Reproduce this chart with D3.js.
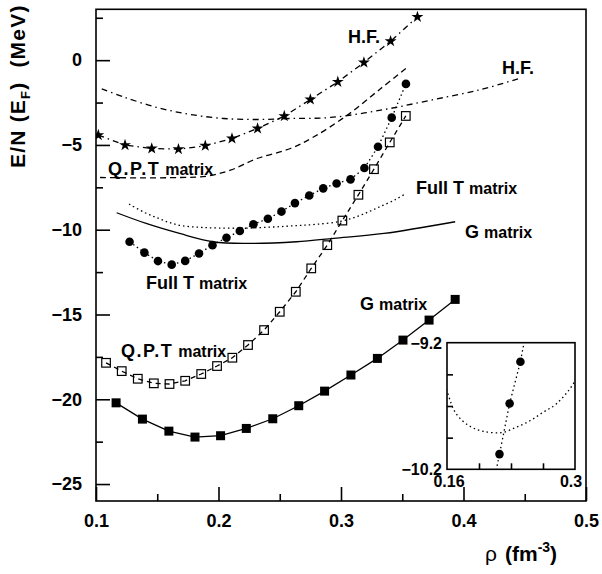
<!DOCTYPE html>
<html>
<head>
<meta charset="utf-8">
<script src="https://cdn.jsdelivr.net/npm/d3@7/dist/d3.min.js"></script>
<style>
  body { margin: 0; background: #fff; }
  text { font-family: "Liberation Sans", Arial, sans-serif; font-weight: bold; fill: #000; }
</style>
</head>
<body>
<script>
// Binding energy per nucleon vs density, several approximations

// H.F. with stars (dash-dot)
var hfStarX = [0.1019, 0.1237, 0.1455, 0.1673, 0.1892, 0.2110, 0.2319, 0.2537, 0.2750, 0.2974, 0.3187, 0.3405, 0.3624];
var hfStarY = [-4.42, -5.01, -5.21, -5.25, -5.05, -4.62, -4.03, -3.30, -2.32, -1.28, -0.14, 1.12, 2.55];

// H.F. curve without markers (dash-dot)
var hfX = [0.1047, 0.1223, 0.1497, 0.1769, 0.2042, 0.2315, 0.2588, 0.2915, 0.3324, 0.3733, 0.4142, 0.4456];
var hfY = [-1.69, -2.16, -2.79, -3.20, -3.44, -3.50, -3.44, -3.38, -2.95, -2.36, -1.73, -1.08];

// Q.P.T matrix curve without markers (dashed)
var qptX = [0.1033, 0.1360, 0.1688, 0.1906, 0.2097, 0.2315, 0.2588, 0.2779, 0.3052, 0.3325, 0.3529];
var qptY = [-6.92, -6.94, -6.92, -6.84, -6.49, -5.80, -5.21, -4.52, -3.24, -1.67, -0.49];

// Q.P.T matrix with open squares (dashed)
var qptSqX = [0.1082, 0.1210, 0.1341, 0.1472, 0.1600, 0.1728, 0.1859, 0.1988, 0.2113, 0.2241,
              0.2372, 0.2500, 0.2631, 0.2757, 0.2888, 0.3011, 0.3142, 0.3269, 0.3398, 0.3529];
var qptSqY = [-17.85, -18.34, -18.79, -19.06, -19.10, -18.91, -18.51, -18.04, -17.55, -16.80,
              -15.92, -14.84, -13.66, -12.28, -10.91, -9.46, -7.94, -6.43, -4.85, -3.29];

// Full T matrix curve without markers (dotted)
var fullX = [0.127, 0.14, 0.15, 0.16, 0.17, 0.185, 0.20, 0.22, 0.235, 0.25, 0.265, 0.28, 0.30, 0.315, 0.33, 0.345, 0.353];
var fullY = [-8.49, -9.0, -9.3, -9.58, -9.76, -9.86, -9.9, -9.91, -9.87, -9.82, -9.75, -9.68, -9.5, -9.17, -8.7, -8.2, -7.86];

// Full T matrix with filled circles (dotted)
var fullDotX = [0.1274, 0.1395, 0.1506, 0.1618, 0.1728, 0.1841, 0.1951, 0.2065, 0.2174, 0.2285, 0.2403,
                0.2514, 0.2624, 0.2741, 0.2855, 0.2964, 0.3078, 0.3191, 0.3302, 0.3414, 0.3530];
var fullDotY = [-10.71, -11.35, -11.85, -12.06, -11.84, -11.40, -10.91, -10.47, -10.08, -9.68, -9.35,
                -8.93, -8.43, -7.98, -7.56, -7.27, -7.03, -6.36, -5.11, -3.39, -1.40];

// G matrix curve without markers (solid)
var gX = [0.1169, 0.1409, 0.1682, 0.1955, 0.2227, 0.2637, 0.2942, 0.3351, 0.3932];
var gY = [-9.00, -9.63, -10.22, -10.71, -10.81, -10.71, -10.51, -10.22, -9.53];

// G matrix with filled squares (solid)
var gSqX = [0.1164, 0.1379, 0.1595, 0.1808, 0.2017, 0.2227, 0.2443, 0.2655, 0.2866, 0.3081, 0.3297, 0.3506, 0.3719, 0.3932];
var gSqY = [-20.21, -21.17, -21.88, -22.23, -22.15, -21.72, -21.15, -20.38, -19.52, -18.57, -17.59, -16.51, -15.33, -14.11];

// ticks
var xMajor = [0.1, 0.2, 0.3, 0.4, 0.5];
var xMinor = [0.15, 0.25, 0.35, 0.45];
var yMajor = [-25, -20, -15, -10, -5, 0];
var yMinor = [-22.5, -17.5, -12.5, -7.5, -2.5, 2.5];
var insetXTicks = [0.195, 0.23, 0.265];
var insetYTicks = [-9.45, -9.7, -9.95];
var insetXLabels = [0.16, 0.3];
var insetYLabels = [-9.2, -10.2];

var width = 602, height = 574;

var svg = d3.select("body").append("svg")
    .attr("width", width)
    .attr("height", height);

var x = d3.scaleLinear().domain([0.1, 0.5]).range([96, 586]);
var y = d3.scaleLinear().domain([-26, 3]).range([501, 9.3]);

function zip(a, b) { return a.map(function(v, i) { return [v, b[i]]; }); }

svg.append("clipPath").attr("id", "plotclip")
  .append("rect")
    .attr("x", x(0.1)).attr("y", y(3))
    .attr("width", x(0.5) - x(0.1)).attr("height", y(-26) - y(3));

// ---- axes (ticks point inward) ----
function styleAxis(g) {
  g.select(".domain").remove();
  g.selectAll("line").attr("stroke", "#000").attr("stroke-width", 1.6);
  g.selectAll("text").attr("font-size", 18).attr("font-family", "Liberation Sans, Arial, sans-serif")
    .attr("font-weight", "bold").attr("fill", "#000");
}

svg.append("g")
    .attr("transform", "translate(0," + y(-26) + ")")
    .call(d3.axisBottom(x).tickValues(xMajor).tickSize(-14).tickPadding(13)
      .tickFormat(function(d) { return d3.format(".1f")(d); }))
    .call(styleAxis);
svg.append("g")
    .attr("transform", "translate(0," + y(-26) + ")")
    .call(d3.axisBottom(x).tickValues(xMinor).tickSize(-7).tickFormat(""))
    .call(styleAxis);
svg.append("g")
    .attr("transform", "translate(" + x(0.1) + ",0)")
    .call(d3.axisLeft(y).tickValues(yMajor).tickSize(-14).tickPadding(14)
      .tickFormat(function(d) { return d3.format("d")(d); }))
    .call(styleAxis);
svg.append("g")
    .attr("transform", "translate(" + x(0.1) + ",0)")
    .call(d3.axisLeft(y).tickValues(yMinor).tickSize(-7).tickFormat(""))
    .call(styleAxis);

// frame
svg.append("rect")
    .attr("x", x(0.1)).attr("y", y(3))
    .attr("width", x(0.5) - x(0.1)).attr("height", y(-26) - y(3))
    .attr("fill", "none").attr("stroke", "#000").attr("stroke-width", 1.6);

// ---- curves ----
var plot = svg.append("g").attr("clip-path", "url(#plotclip)");

var smooth = d3.line().x(function(d) { return x(d[0]); }).y(function(d) { return y(d[1]); })
    .curve(d3.curveCatmullRom);
var straight = d3.line().x(function(d) { return x(d[0]); }).y(function(d) { return y(d[1]); });

function curve(g, gen, pts, dash) {
  g.append("path")
    .datum(pts)
    .attr("d", gen)
    .attr("fill", "none")
    .attr("stroke", "#000")
    .attr("stroke-width", 1.3)
    .attr("stroke-dasharray", dash);
}

curve(plot, smooth, zip(hfX, hfY), "6,4,1.5,4");
curve(plot, smooth, zip(qptX, qptY), "6,4");
curve(plot, smooth, zip(fullX, fullY), "1.5,3");
curve(plot, smooth, zip(gX, gY), null);

curve(plot, straight, zip(hfStarX, hfStarY), "6,4,1.5,4");
curve(plot, straight, zip(qptSqX, qptSqY), "5,4");
curve(plot, straight, zip(fullDotX, fullDotY), "1.5,3");
curve(plot, straight, zip(gSqX, gSqY), null);

// markers
plot.selectAll(".star")
  .data(zip(hfStarX, hfStarY)).enter().append("path")
    .attr("d", d3.symbol().type(d3.symbolStar).size(44))
    .attr("transform", function(d) { return "translate(" + x(d[0]) + "," + y(d[1]) + ")"; })
    .attr("fill", "#000");

plot.selectAll(".osq")
  .data(zip(qptSqX, qptSqY)).enter().append("rect")
    .attr("x", function(d) { return x(d[0]) - 4.3; })
    .attr("y", function(d) { return y(d[1]) - 4.3; })
    .attr("width", 8.6).attr("height", 8.6)
    .attr("fill", "none").attr("stroke", "#000").attr("stroke-width", 1.2);

plot.selectAll(".dot")
  .data(zip(fullDotX, fullDotY)).enter().append("circle")
    .attr("cx", function(d) { return x(d[0]); })
    .attr("cy", function(d) { return y(d[1]); })
    .attr("r", 4.3)
    .attr("fill", "#000");

plot.selectAll(".fsq")
  .data(zip(gSqX, gSqY)).enter().append("rect")
    .attr("x", function(d) { return x(d[0]) - 4.5; })
    .attr("y", function(d) { return y(d[1]) - 4.5; })
    .attr("width", 9).attr("height", 9)
    .attr("fill", "#000");

// ---- curve labels ----
function label(xp, yp, big, small, bigSize, spacing) {
  var t = svg.append("text").attr("x", xp).attr("y", yp);
  t.append("tspan").attr("font-size", bigSize || 18)
    .attr("letter-spacing", spacing || 0).text(big);
  if (small) t.append("tspan").attr("font-size", 16).attr("dx", 5).attr("letter-spacing", 0).text(small);
}
label(348, 43, "H.F.");
label(502, 74, "H.F.");
label(108, 175, "Q.P.T", "matrix", 18, 1.5);
label(416, 194, "Full T", "matrix");
label(465, 238, "G", "matrix");
label(146, 289, "Full T", "matrix");
label(121, 357, "Q.P.T", "matrix", 18, 1.5);
label(360, 310, "G", "matrix");

// ---- axis titles ----
var yt = svg.append("text")
    .attr("transform", "translate(25,168) rotate(-90)")
    .attr("font-size", 21).attr("letter-spacing", 1.2);
yt.append("tspan").text("E/N (E");
yt.append("tspan").attr("font-size", 13).attr("dy", 5).text("F");
yt.append("tspan").attr("dy", -5).text(")");
yt.append("tspan").attr("dx", 14).text("(MeV)");

var xt = svg.append("text").attr("x", 485).attr("y", 561).attr("font-size", 21);
xt.append("tspan").attr("font-weight", "normal").text("ρ");
xt.append("tspan").attr("dx", 8).text("(fm");
xt.append("tspan").attr("font-size", 14).attr("dy", -9).text("-3");
xt.append("tspan").attr("dy", 9).text(")");

// ---- inset ----
var ix = d3.scaleLinear().domain([0.16, 0.3]).range([447, 575]);
var iy = d3.scaleLinear().domain([-10.2, -9.2]).range([469.3, 342.7]);

svg.append("clipPath").attr("id", "insetclip")
  .append("rect")
    .attr("x", ix(0.16)).attr("y", iy(-9.2))
    .attr("width", ix(0.3) - ix(0.16)).attr("height", iy(-10.2) - iy(-9.2));

svg.append("rect")
    .attr("x", ix(0.16)).attr("y", iy(-9.2))
    .attr("width", ix(0.3) - ix(0.16)).attr("height", iy(-10.2) - iy(-9.2))
    .attr("fill", "#fff");

var inset = svg.append("g").attr("clip-path", "url(#insetclip)");
var ismooth = d3.line().x(function(d) { return ix(d[0]); }).y(function(d) { return iy(d[1]); })
    .curve(d3.curveCatmullRom);
var istraight = d3.line().x(function(d) { return ix(d[0]); }).y(function(d) { return iy(d[1]); });

curve(inset, ismooth, zip(fullX, fullY), "1.5,3");
curve(inset, istraight, zip(fullDotX, fullDotY), "1.5,3");
inset.selectAll(".idot")
  .data(zip(fullDotX, fullDotY)).enter().append("circle")
    .attr("cx", function(d) { return ix(d[0]); })
    .attr("cy", function(d) { return iy(d[1]); })
    .attr("r", 4.3)
    .attr("fill", "#000");

svg.append("g")
    .attr("transform", "translate(0," + iy(-10.2) + ")")
    .call(d3.axisBottom(ix).tickValues(insetXTicks).tickSize(-6).tickFormat(""))
    .call(styleAxis);
svg.append("g")
    .attr("transform", "translate(" + ix(0.16) + ",0)")
    .call(d3.axisLeft(iy).tickValues(insetYTicks).tickSize(-6).tickFormat(""))
    .call(styleAxis);

svg.append("rect")
    .attr("x", ix(0.16)).attr("y", iy(-9.2))
    .attr("width", ix(0.3) - ix(0.16)).attr("height", iy(-10.2) - iy(-9.2))
    .attr("fill", "none").attr("stroke", "#000").attr("stroke-width", 1.6);

svg.selectAll(".ixl")
  .data(insetXLabels).enter().append("text")
    .attr("x", function(d) { return ix(d) + (d === 0.3 ? -4 : 2); })
    .attr("y", 487)
    .attr("text-anchor", "middle")
    .attr("font-size", 16)
    .text(function(d) { return d; });
svg.selectAll(".iyl")
  .data(insetYLabels).enter().append("text")
    .attr("x", 442)
    .attr("y", function(d) { return iy(d) + 6; })
    .attr("text-anchor", "end")
    .attr("font-size", 16)
    .text(function(d) { return d3.format(".1f")(d); });
</script>
</body>
</html>
